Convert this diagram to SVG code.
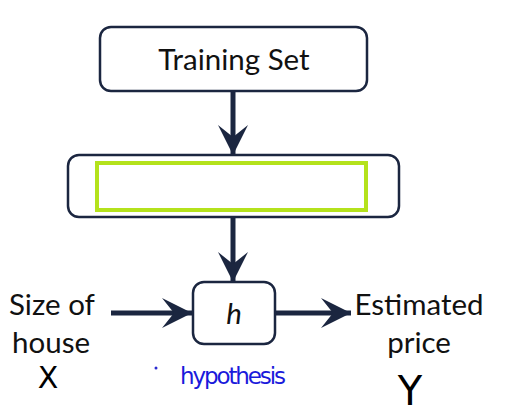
<svg xmlns="http://www.w3.org/2000/svg" width="508" height="418" viewBox="0 0 508 418">
<style>
.box{fill:#fff;stroke:#1b2640;stroke-width:2.5}
.lbl{font-family:Lato,"Open Sans",sans-serif;font-size:29.5px;fill:#111}
.line{stroke:#1b2640;stroke-width:5;fill:none}
.hand{font-family:"DejaVu Sans",sans-serif}
</style>
<defs>
<marker id="ah" viewBox="0 0 30 30" refX="30" refY="15" markerWidth="30" markerHeight="30" markerUnits="userSpaceOnUse" orient="auto">
<path d="M30,15 L0,0 L12,15 L0,30 Z" fill="#1b2640"/>
</marker>
</defs>
<rect width="508" height="418" fill="#fff"/>
<g id="connectors">
<line class="line" x1="233" y1="91" x2="233" y2="155" marker-end="url(#ah)"/>
<line class="line" x1="233" y1="217" x2="233" y2="282" marker-end="url(#ah)"/>
<line class="line" x1="111" y1="313" x2="192" y2="313" marker-end="url(#ah)"/>
<line class="line" x1="275" y1="313" x2="351" y2="313" marker-end="url(#ah)"/>
</g>
<g id="training-set">
<rect class="box" x="100" y="27" width="267" height="64" rx="11"/>
<text class="lbl" x="234" y="70" text-anchor="middle">Training Set</text>
</g>
<g id="learning-algorithm">
<rect class="box" x="68" y="155" width="331" height="62" rx="11"/>
<rect x="97" y="163" width="269" height="47" fill="none" stroke="#b4e21c" stroke-width="4"/>
</g>
<g id="h">
<rect class="box" x="193" y="282" width="82" height="62" rx="11"/>
<text class="lbl" x="234" y="324" text-anchor="middle" font-style="italic">h</text>
</g>
<g id="input">
<text class="lbl" x="9" y="315">Size of</text>
<text class="lbl" x="51" y="353" text-anchor="middle">house</text>
<text class="hand" x="48" y="388" font-size="30" text-anchor="middle" fill="#000">X</text>
</g>
<g id="output">
<text class="lbl" x="419" y="315" text-anchor="middle">Estimated</text>
<text class="lbl" x="419" y="353" text-anchor="middle">price</text>
<text class="hand" x="410" y="405" font-size="40" text-anchor="middle" fill="#000">Y</text>
</g>
<g id="hypothesis-note">
<circle cx="156" cy="368" r="1.5" fill="#2a2ad0"/>
<text x="233" y="384" font-family="'DejaVu Sans',sans-serif" font-size="23" fill="#1a1adb" text-anchor="middle" textLength="106">hypothesis</text>
</g>
</svg>
